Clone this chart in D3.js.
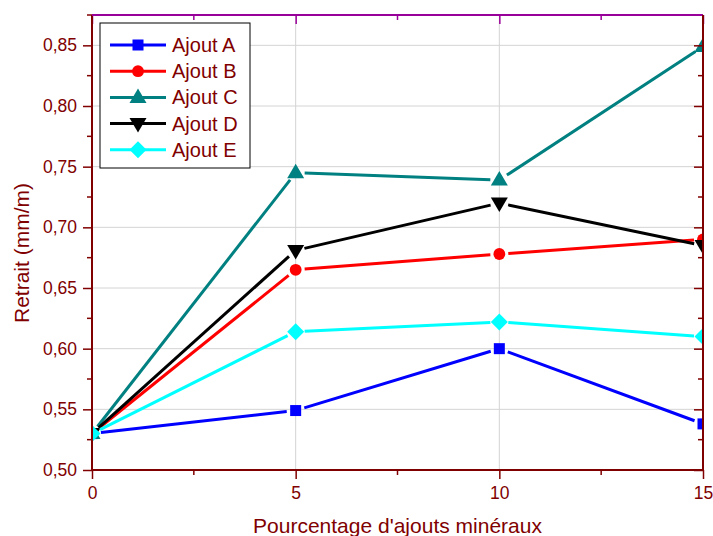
<!DOCTYPE html>
<html>
<head>
<meta charset="utf-8">
<script src="https://cdn.jsdelivr.net/npm/d3@7"></script>
<style>
  html, body { margin: 0; padding: 0; background: #fff; }
  svg { display: block; font-family: "Liberation Sans", Arial, sans-serif; }
</style>
</head>
<body>
<svg id="chart" width="713" height="536"></svg>
<script>
// Percentage of mineral additions
const percentages = [0, 5, 10, 15];
// Shrinkage (mm/m) for each addition type
const ajoutA = [0.530, 0.549, 0.600, 0.538];
const ajoutB = [0.530, 0.665, 0.678, 0.690];
const ajoutC = [0.530, 0.745, 0.739, 0.849];
const ajoutD = [0.530, 0.681, 0.720, 0.685];
const ajoutE = [0.530, 0.614, 0.622, 0.610];
const seriesNames = ["Ajout A", "Ajout B", "Ajout C", "Ajout D", "Ajout E"];
const xTicks = [0, 5, 10, 15];
const yTicks = [0.50, 0.55, 0.60, 0.65, 0.70, 0.75, 0.80, 0.85];

const seriesValues = [ajoutA, ajoutB, ajoutC, ajoutD, ajoutE];
const colors = ["#0000ff", "#ff0000", "#008080", "#000000", "#00ffff"];
const symbols = ["square", "circle", "triUp", "triDown", "diamond"];

const axisRed = "#800000";
const topPurple = "#990099";

const svg = d3.select("#chart");
const plotLeft = 92, plotRight = 703, plotTop = 15, plotBottom = 470;

const x = d3.scaleLinear().domain([0, 15]).range([plotLeft, plotRight]);
const y = d3.scaleLinear().domain([0.5, 0.875]).range([plotBottom, plotTop]);

// marker shapes
function markerPath(kind) {
  switch (kind) {
    case "square": return "M-5.5,-5.5H5.5V5.5H-5.5Z";
    case "circle": return d3.symbol(d3.symbolCircle, 110)();
    case "triUp": return "M0,-9L8.5,5.5L-8.5,5.5Z";
    case "triDown": return "M0,9L8.5,-5.5L-8.5,-5.5Z";
    case "diamond": return "M0,-8.5L8.5,0L0,8.5L-8.5,0Z";
  }
}

// grid
const grid = svg.append("g");
grid.selectAll("line.h").data(yTicks.slice(1)).join("line").attr("class", "h")
  .attr("x1", plotLeft).attr("x2", plotRight)
  .attr("y1", d => y(d)).attr("y2", d => y(d))
  .attr("stroke", "#d4d4d4").attr("stroke-width", 1);
grid.selectAll("line.v").data([5, 10]).join("line").attr("class", "v")
  .attr("y1", plotTop).attr("y2", plotBottom)
  .attr("x1", d => x(d)).attr("x2", d => x(d))
  .attr("stroke", "#d4d4d4").attr("stroke-width", 1);

// clip to plotting area
svg.append("defs").append("clipPath").attr("id", "plotClip")
  .append("rect").attr("x", plotLeft).attr("y", plotTop)
  .attr("width", plotRight - plotLeft).attr("height", plotBottom - plotTop);

const plot = svg.append("g").attr("clip-path", "url(#plotClip)");
const gap = 9;

seriesValues.forEach((vals, i) => {
  const pts = vals.map((v, k) => [x(percentages[k]), y(v)]);
  const g = plot.append("g");
  // line segments stop short of the markers
  const segs = d3.pairs(pts).map(([p, q]) => {
    const dx = q[0] - p[0], dy = q[1] - p[1];
    const len = Math.hypot(dx, dy);
    const ux = dx / len, uy = dy / len;
    return [p[0] + ux * gap, p[1] + uy * gap, q[0] - ux * gap, q[1] - uy * gap];
  });
  g.selectAll("line").data(segs).join("line")
    .attr("x1", d => d[0]).attr("y1", d => d[1])
    .attr("x2", d => d[2]).attr("y2", d => d[3])
    .attr("stroke", colors[i]).attr("stroke-width", 3);
  g.selectAll("path").data(pts).join("path")
    .attr("d", markerPath(symbols[i]))
    .attr("transform", d => `translate(${d[0]},${d[1]})`)
    .attr("fill", colors[i]);
});

// axes
const minorX = [2.5, 7.5, 12.5];
const minorY = d3.range(0.525, 0.876, 0.05);

// bottom axis
const bAxis = svg.append("g").attr("transform", `translate(0,${plotBottom})`)
  .call(d3.axisBottom(x).tickValues(xTicks).tickSize(9).tickPadding(8)
    .tickFormat(d3.format("d")));
bAxis.selectAll(".tick text").attr("font-size", 17.5).attr("fill", axisRed)
  .attr("font-family", "Liberation Sans, Arial, sans-serif");
bAxis.selectAll(".tick line").attr("stroke", axisRed).attr("stroke-width", 1.5);
bAxis.select(".domain").remove();
svg.append("g").selectAll("line").data(minorX).join("line")
  .attr("x1", d => x(d)).attr("x2", d => x(d))
  .attr("y1", plotBottom).attr("y2", plotBottom + 5)
  .attr("stroke", axisRed).attr("stroke-width", 1.5);

// left axis
const fmt = v => d3.format(".2f")(v).replace(".", ",");
const lAxis = svg.append("g").attr("transform", `translate(${plotLeft},0)`)
  .call(d3.axisLeft(y).tickValues(yTicks).tickSize(9).tickPadding(6).tickFormat(fmt));
lAxis.selectAll(".tick text").attr("font-size", 17.5).attr("fill", axisRed)
  .attr("font-family", "Liberation Sans, Arial, sans-serif");
lAxis.selectAll(".tick line").attr("stroke", axisRed).attr("stroke-width", 1.5);
lAxis.select(".domain").remove();
svg.append("g").selectAll("line").data(minorY).join("line")
  .attr("y1", d => y(d)).attr("y2", d => y(d))
  .attr("x1", plotLeft).attr("x2", plotLeft - 5)
  .attr("stroke", axisRed).attr("stroke-width", 1.5);

// right axis, ticks pointing inward
const rAxis = svg.append("g").attr("transform", `translate(${plotRight},0)`)
  .call(d3.axisLeft(y).tickValues(yTicks).tickSize(9).tickFormat(""));
rAxis.selectAll(".tick line").attr("stroke", axisRed).attr("stroke-width", 1.5);
rAxis.select(".domain").remove();
svg.append("g").selectAll("line").data(minorY).join("line")
  .attr("y1", d => y(d)).attr("y2", d => y(d))
  .attr("x1", plotRight).attr("x2", plotRight - 5)
  .attr("stroke", axisRed).attr("stroke-width", 1.5);

// top axis, ticks pointing inward
const tAxis = svg.append("g").attr("transform", `translate(0,${plotTop})`)
  .call(d3.axisTop(x).tickValues(xTicks).tickSize(-9).tickFormat(""));
tAxis.selectAll(".tick line").attr("stroke", topPurple).attr("stroke-width", 1.5);
tAxis.select(".domain").remove();
svg.append("g").selectAll("line").data(minorX).join("line")
  .attr("x1", d => x(d)).attr("x2", d => x(d))
  .attr("y1", plotTop).attr("y2", plotTop + 5)
  .attr("stroke", topPurple).attr("stroke-width", 1.5);

// frame lines
svg.append("line").attr("x1", plotLeft).attr("x2", plotRight).attr("y1", plotBottom).attr("y2", plotBottom)
  .attr("stroke", axisRed).attr("stroke-width", 2);
svg.append("line").attr("x1", plotLeft).attr("x2", plotLeft).attr("y1", plotTop).attr("y2", plotBottom)
  .attr("stroke", axisRed).attr("stroke-width", 2);
svg.append("line").attr("x1", plotLeft).attr("x2", plotRight).attr("y1", plotTop).attr("y2", plotTop)
  .attr("stroke", topPurple).attr("stroke-width", 2);
svg.append("line").attr("x1", plotRight).attr("x2", plotRight).attr("y1", plotTop).attr("y2", plotBottom)
  .attr("stroke", axisRed).attr("stroke-width", 2);

// axis titles
svg.append("text").attr("x", (plotLeft + plotRight) / 2).attr("y", 533)
  .attr("text-anchor", "middle").attr("font-size", 21).attr("fill", axisRed)
  .text("Pourcentage d'ajouts minéraux");
svg.append("text").attr("transform", "translate(29,253) rotate(-90)")
  .attr("text-anchor", "middle").attr("font-size", 21).attr("fill", axisRed)
  .text("Retrait (mm/m)");

// legend
const legend = svg.append("g");
legend.append("rect").attr("x", 100).attr("y", 23).attr("width", 150).attr("height", 145)
  .attr("fill", "#fff").attr("stroke", "#000").attr("stroke-width", 1);
seriesNames.forEach((name, i) => {
  const cy = 45 + i * 26.2;
  const row = legend.append("g");
  row.append("line").attr("x1", 110).attr("x2", 166).attr("y1", cy).attr("y2", cy)
    .attr("stroke", colors[i]).attr("stroke-width", 3);
  row.append("path").attr("d", markerPath(symbols[i]))
    .attr("transform", `translate(138,${cy})`).attr("fill", colors[i]);
  row.append("text").attr("x", 172).attr("y", cy + 7).attr("font-size", 20)
    .attr("fill", axisRed).text(name);
});
</script>
</body>
</html>
